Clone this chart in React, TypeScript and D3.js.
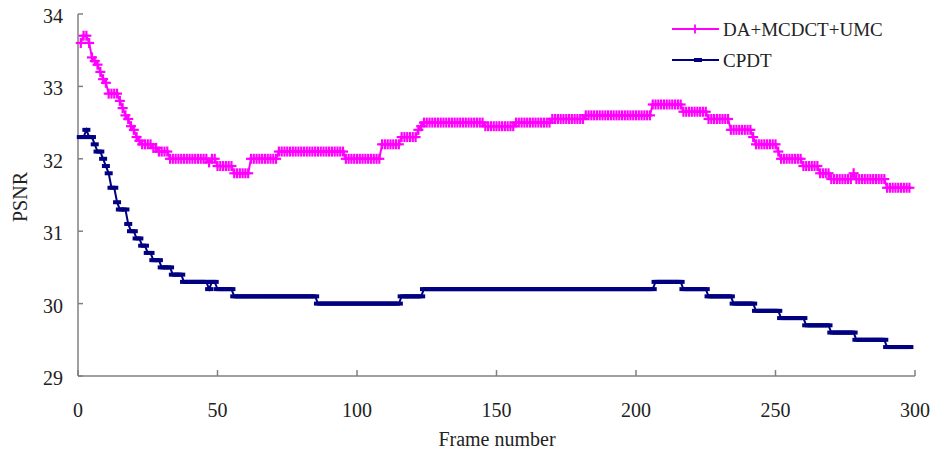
import React from "react";
import * as d3 from "d3";

// Frame numbers 1..298
const magentaValues: number[] = [
  33.6, 33.7, 33.7, 33.6, 33.4, 33.35, 33.3, 33.2, 33.1, 33.05,
  32.9, 32.9, 32.9, 32.9, 32.8, 32.7, 32.6, 32.55, 32.45, 32.4,
  32.3, 32.25, 32.2, 32.2, 32.2, 32.2, 32.15, 32.15, 32.1, 32.1,
  32.1, 32.1, 32.0, 32.0, 32.0, 32.0, 32.0, 32.0, 32.0, 32.0,
  32.0, 32.0, 32.0, 32.0, 32.0, 32.0, 31.95, 32.0, 32.0, 31.9,
  31.9, 31.9, 31.9, 31.9, 31.9, 31.8, 31.8, 31.8, 31.8, 31.8,
  31.8, 32.0, 32.0, 32.0, 32.0, 32.0, 32.0, 32.0, 32.0, 32.0,
  32.0, 32.1, 32.1, 32.1, 32.1, 32.1, 32.1, 32.1, 32.1, 32.1,
  32.1, 32.1, 32.1, 32.1, 32.1, 32.1, 32.1, 32.1, 32.1, 32.1,
  32.1, 32.1, 32.1, 32.1, 32.1, 32.0, 32.0, 32.0, 32.0, 32.0,
  32.0, 32.0, 32.0, 32.0, 32.0, 32.0, 32.0, 32.0, 32.2, 32.2,
  32.2, 32.2, 32.2, 32.2, 32.2, 32.3, 32.3, 32.3, 32.3, 32.3,
  32.3, 32.4, 32.45, 32.5, 32.5, 32.5, 32.5, 32.5, 32.5, 32.5,
  32.5, 32.5, 32.5, 32.5, 32.5, 32.5, 32.5, 32.5, 32.5, 32.5,
  32.5, 32.5, 32.5, 32.5, 32.5, 32.45, 32.45, 32.45, 32.45, 32.45,
  32.45, 32.45, 32.45, 32.45, 32.45, 32.45, 32.5, 32.5, 32.5, 32.5,
  32.5, 32.5, 32.5, 32.5, 32.5, 32.5, 32.5, 32.5, 32.5, 32.55,
  32.55, 32.55, 32.55, 32.55, 32.55, 32.55, 32.55, 32.55, 32.55, 32.55,
  32.55, 32.6, 32.6, 32.6, 32.6, 32.6, 32.6, 32.6, 32.6, 32.6,
  32.6, 32.6, 32.6, 32.6, 32.6, 32.6, 32.6, 32.6, 32.6, 32.6,
  32.6, 32.6, 32.6, 32.6, 32.6, 32.75, 32.75, 32.75, 32.75, 32.75,
  32.75, 32.75, 32.75, 32.75, 32.75, 32.75, 32.65, 32.65, 32.65, 32.65,
  32.65, 32.65, 32.65, 32.65, 32.65, 32.55, 32.55, 32.55, 32.55, 32.55,
  32.55, 32.55, 32.55, 32.4, 32.4, 32.4, 32.4, 32.4, 32.4, 32.4,
  32.4, 32.3, 32.2, 32.2, 32.2, 32.2, 32.2, 32.2, 32.2, 32.2,
  32.1, 32.0, 32.0, 32.0, 32.0, 32.0, 32.0, 32.0, 32.0, 31.9,
  31.9, 31.9, 31.9, 31.9, 31.9, 31.8, 31.8, 31.8, 31.8, 31.72,
  31.72, 31.72, 31.72, 31.72, 31.72, 31.72, 31.72, 31.8, 31.72, 31.72,
  31.72, 31.72, 31.72, 31.72, 31.72, 31.72, 31.72, 31.72, 31.72, 31.6,
  31.6, 31.6, 31.6, 31.6, 31.6, 31.6, 31.6, 31.6,
];

const navyValues: number[] = [
  32.3, 32.3, 32.4, 32.3, 32.3, 32.2, 32.1, 32.1, 32.0, 31.9,
  31.8, 31.6, 31.6, 31.4, 31.3, 31.3, 31.3, 31.1, 31.0, 31.0,
  30.9, 30.9, 30.8, 30.8, 30.7, 30.7, 30.6, 30.6, 30.6, 30.5,
  30.5, 30.5, 30.5, 30.4, 30.4, 30.4, 30.4, 30.3, 30.3, 30.3,
  30.3, 30.3, 30.3, 30.3, 30.3, 30.3, 30.2, 30.3, 30.3, 30.2,
  30.2, 30.2, 30.2, 30.2, 30.2, 30.1, 30.1, 30.1, 30.1, 30.1,
  30.1, 30.1, 30.1, 30.1, 30.1, 30.1, 30.1, 30.1, 30.1, 30.1,
  30.1, 30.1, 30.1, 30.1, 30.1, 30.1, 30.1, 30.1, 30.1, 30.1,
  30.1, 30.1, 30.1, 30.1, 30.1, 30.0, 30.0, 30.0, 30.0, 30.0,
  30.0, 30.0, 30.0, 30.0, 30.0, 30.0, 30.0, 30.0, 30.0, 30.0,
  30.0, 30.0, 30.0, 30.0, 30.0, 30.0, 30.0, 30.0, 30.0, 30.0,
  30.0, 30.0, 30.0, 30.0, 30.0, 30.1, 30.1, 30.1, 30.1, 30.1,
  30.1, 30.1, 30.1, 30.2, 30.2, 30.2, 30.2, 30.2, 30.2, 30.2,
  30.2, 30.2, 30.2, 30.2, 30.2, 30.2, 30.2, 30.2, 30.2, 30.2,
  30.2, 30.2, 30.2, 30.2, 30.2, 30.2, 30.2, 30.2, 30.2, 30.2,
  30.2, 30.2, 30.2, 30.2, 30.2, 30.2, 30.2, 30.2, 30.2, 30.2,
  30.2, 30.2, 30.2, 30.2, 30.2, 30.2, 30.2, 30.2, 30.2, 30.2,
  30.2, 30.2, 30.2, 30.2, 30.2, 30.2, 30.2, 30.2, 30.2, 30.2,
  30.2, 30.2, 30.2, 30.2, 30.2, 30.2, 30.2, 30.2, 30.2, 30.2,
  30.2, 30.2, 30.2, 30.2, 30.2, 30.2, 30.2, 30.2, 30.2, 30.2,
  30.2, 30.2, 30.2, 30.2, 30.2, 30.2, 30.3, 30.3, 30.3, 30.3,
  30.3, 30.3, 30.3, 30.3, 30.3, 30.3, 30.2, 30.2, 30.2, 30.2,
  30.2, 30.2, 30.2, 30.2, 30.2, 30.1, 30.1, 30.1, 30.1, 30.1,
  30.1, 30.1, 30.1, 30.1, 30.0, 30.0, 30.0, 30.0, 30.0, 30.0,
  30.0, 30.0, 29.9, 29.9, 29.9, 29.9, 29.9, 29.9, 29.9, 29.9,
  29.9, 29.8, 29.8, 29.8, 29.8, 29.8, 29.8, 29.8, 29.8, 29.8,
  29.7, 29.7, 29.7, 29.7, 29.7, 29.7, 29.7, 29.7, 29.7, 29.6,
  29.6, 29.6, 29.6, 29.6, 29.6, 29.6, 29.6, 29.6, 29.5, 29.5,
  29.5, 29.5, 29.5, 29.5, 29.5, 29.5, 29.5, 29.5, 29.5, 29.4,
  29.4, 29.4, 29.4, 29.4, 29.4, 29.4, 29.4, 29.4,
];

const xTicks = [0, 50, 100, 150, 200, 250, 300];
const yTicks = [29, 30, 31, 32, 33, 34];
const seriesNames = ["DA+MCDCT+UMC", "CPDT"];
const seriesColors = ["#ff00ff", "#000080"];

const W = 933;
const H = 450;
const FONT = "'Liberation Serif', 'DejaVu Serif', serif";

export default function App() {
  const x = d3.scaleLinear().domain([0, 300]).range([78, 915]);
  const y = d3.scaleLinear().domain([29, 34]).range([376, 14]);

  const magenta = magentaValues.map((v, i) => [i + 1, v] as [number, number]);
  const navy = navyValues.map((v, i) => [i + 1, v] as [number, number]);

  const line = d3
    .line<[number, number]>()
    .x((d) => x(d[0]))
    .y((d) => y(d[1]));

  const axisColor = "#808080";

  return (
    <svg
      width={W}
      height={H}
      style={{ position: "absolute", left: 0, top: 0, background: "#fff" }}
      fontFamily={FONT}
    >
      <rect x={0} y={0} width={W} height={H} fill="#fff" />

      {/* axes */}
      <line x1={x(0)} x2={x(0)} y1={y(34)} y2={y(29)} stroke={axisColor} strokeWidth={1.5} />
      <line x1={x(0)} x2={x(300)} y1={y(29)} y2={y(29)} stroke={axisColor} strokeWidth={1.5} />
      {yTicks.map((t) => (
        <g key={"y" + t}>
          <line x1={x(0)} x2={x(0) + 5} y1={y(t)} y2={y(t)} stroke={axisColor} strokeWidth={1.5} />
          <text x={63} y={y(t) + 9} fontSize={20} textAnchor="end" fill="#222">
            {t}
          </text>
        </g>
      ))}
      {xTicks.map((t) => (
        <g key={"x" + t}>
          <line x1={x(t)} x2={x(t)} y1={y(29)} y2={y(29) - 6} stroke={axisColor} strokeWidth={1.5} />
          <text x={x(t)} y={417} fontSize={20} textAnchor="middle" fill="#222">
            {t}
          </text>
        </g>
      ))}
      <text x={497} y={446} fontSize={20} textAnchor="middle" fill="#222">
        Frame number
      </text>
      <text
        transform={`translate(27,197) rotate(-90)`}
        fontSize={20}
        textAnchor="middle"
        fill="#222"
      >
        PSNR
      </text>

      {/* navy series */}
      <path d={line(navy) ?? ""} fill="none" stroke={seriesColors[1]} strokeWidth={2} />
      {navy.map((d, i) => (
        <rect
          key={"n" + i}
          x={x(d[0]) - 4}
          y={y(d[1]) - 2}
          width={8}
          height={4}
          fill={seriesColors[1]}
        />
      ))}

      {/* magenta series */}
      <path d={line(magenta) ?? ""} fill="none" stroke={seriesColors[0]} strokeWidth={2} />
      {magenta.map((d, i) => (
        <g key={"m" + i} stroke={seriesColors[0]} strokeWidth={2.2}>
          <line x1={x(d[0]) - 5} x2={x(d[0]) + 5} y1={y(d[1])} y2={y(d[1])} />
          <line x1={x(d[0])} x2={x(d[0])} y1={y(d[1]) - 5} y2={y(d[1]) + 5} />
        </g>
      ))}

      {/* legend */}
      <g>
        <line x1={672} x2={719} y1={29} y2={29} stroke={seriesColors[0]} strokeWidth={2} />
        <line x1={695} x2={695} y1={24.5} y2={33.5} stroke={seriesColors[0]} strokeWidth={1.8} />
        <line x1={691} x2={699} y1={29} y2={29} stroke={seriesColors[0]} strokeWidth={1.8} />
        <text x={723} y={36} fontSize={19} fill="#222">
          {seriesNames[0]}
        </text>
        <line x1={672} x2={719} y1={60} y2={60} stroke={seriesColors[1]} strokeWidth={2} />
        <rect x={694} y={58} width={8} height={4} fill={seriesColors[1]} />
        <text x={723} y={67} fontSize={19} fill="#222">
          {seriesNames[1]}
        </text>
      </g>
    </svg>
  );
}
